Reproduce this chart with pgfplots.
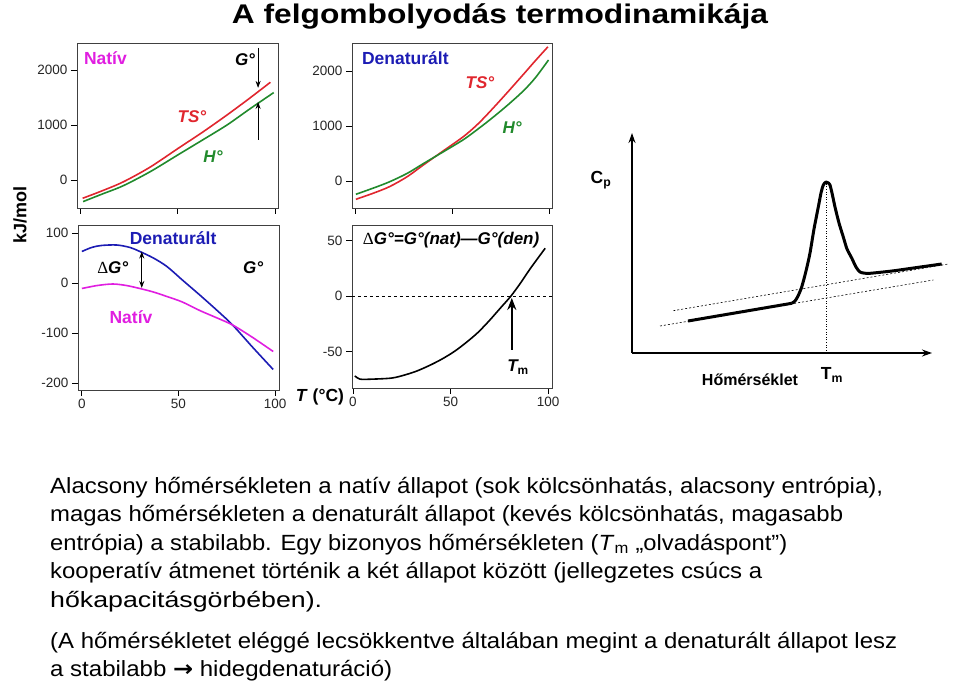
\documentclass[border=0pt]{standalone}
\usepackage{fontspec}
\setmainfont{Liberation Sans}
\newfontfamily\symfont{Liberation Serif}
\newfontfamily\arrowfont{DejaVu Sans}
\usepackage{graphicx}
\usepackage{pgfplots}
\pgfplotsset{compat=1.18}
\usetikzlibrary{arrows.meta}
\definecolor{tsred}{HTML}{E0262E}
\definecolor{hgreen}{HTML}{218A2C}
\definecolor{denblue}{HTML}{1C1CB4}
\definecolor{natmag}{HTML}{E01EE0}

\newcommand{\lab}{\fontsize{17.5bp}{20bp}\selectfont\bfseries}
\newcommand{\labi}{\fontsize{17bp}{20bp}\selectfont\bfseries\itshape}
\newcommand{\body}{\fontsize{22bp}{26bp}\selectfont}
% one line of the slide text, stretched to the width it has in the reference
\newcommand{\bline}[3]{\node[anchor=base west,inner sep=0pt,font=\body] at (50bp,-#1bp) {\resizebox{#2bp}{\height}{#3}};}

\pgfplotsset{
  panel/.style={
    scale only axis, clip=false,
    tick align=outside, major tick length=6bp,
    xtick pos=left, ytick pos=left,
    axis line style={line width=0.7bp, black!75},
    tick style={line width=0.8bp, black},
    tick label style={font=\fontsize{13.5bp}{15bp}\selectfont, text=black!85},
    /pgf/number format/assume math mode=true,
    /pgf/number format/set thousands separator={},
    scaled ticks=false,
    xtick={0,50,100},
  },
}

\begin{document}
\begin{tikzpicture}
\useasboundingbox (0,0) rectangle (960bp,-684bp);

% title
\node[anchor=base,inner sep=0pt,font=\fontsize{27bp}{30bp}\selectfont\bfseries] at (500bp,-23bp)
  {\resizebox{536bp}{\height}{A felgombolyodás termodinamikája}};

% ---- top left: native state
\begin{axis}[panel, at={(77bp,-43bp)}, anchor=north west, width=201bp, height=165bp,
  xmin=-1.5, xmax=101.5, ymin=-510, ymax=2490, ytick={0,1000,2000}, xticklabels={}]
\addplot[tsred, line width=1.6bp, smooth] coordinates {
  (1.4,-333) (11,-203) (22.2,-35) (36,234) (50.4,576) (63,872) (75.4,1182) (87,1487) (97.6,1776)};
\addplot[hgreen, line width=1.6bp, smooth] coordinates {
  (1.6,-394) (11.5,-255) (22.2,-105) (36,150) (50.4,460) (63,730) (75.4,1000) (87,1290) (99.3,1588)};
\node[natmag, font=\lab, anchor=west, inner sep=0pt] at (axis cs:2,2218) {Natív};
\node[font=\labi] at (axis cs:84.6,2180) {G°};
\node[tsred, font=\labi] at (axis cs:57.4,1145) {TS°};
\node[hgreen, font=\labi] at (axis cs:68.2,418) {H°};
\draw[-{Stealth[length=7bp,width=5bp]}, line width=1.1bp] (axis cs:91.3,2400) -- (axis cs:91.3,1673);
\draw[-{Stealth[length=7bp,width=5bp]}, line width=1.1bp] (axis cs:91.3,727) -- (axis cs:91.3,1418);
\end{axis}

% ---- top middle: denatured state
\begin{axis}[panel, at={(352bp,-43bp)}, anchor=north west, width=200bp, height=165bp,
  xmin=-1.5, xmax=101.5, ymin=-491, ymax=2509, ytick={0,1000,2000}, xticklabels={}]
\addplot[tsred, line width=1.6bp, smooth] coordinates {
  (0.5,-333) (10,-215) (18,-100) (27,80) (35.2,290) (45,535) (55.8,805) (63,1025) (69.6,1265)
  (78,1590) (86.8,1940) (93,2190) (99.4,2440)};
\addplot[hgreen, line width=1.6bp, smooth] coordinates {
  (0.5,-242) (10,-122) (18,-12) (27,140) (35.2,315) (45,520) (55.8,750) (63,935) (69.6,1115)
  (78,1360) (86.8,1640) (93,1880) (99.7,2200)};
\node[denblue, font=\lab, anchor=west, inner sep=0pt] at (axis cs:3.6,2236) {Denaturált};
\node[tsred, font=\labi] at (axis cs:64.4,1782) {TS°};
\node[hgreen, font=\labi] at (axis cs:81,964) {H°};
\end{axis}

% ---- bottom left: free energies
\begin{axis}[panel, at={(78bp,-225bp)}, anchor=north west, width=201bp, height=165bp,
  xmin=-2, xmax=102, ymin=-214, ymax=116, ytick={-200,-100,0,100}]
\addplot[denblue, line width=1.6bp, smooth] coordinates {
  (0,63) (5,71) (10,75) (18,76) (25,71) (30,63) (37,50) (44,33) (52,6) (61,-24) (70,-55) (78,-84) (88,-127) (99,-173)};
\addplot[natmag, line width=1.6bp, smooth] coordinates {
  (0,-11) (8,-5) (16,-2) (23,-5) (30,-11) (37,-18) (44,-27) (52,-38) (61,-55) (70,-70) (78,-84) (88,-108) (99,-137)};
\node[denblue, font=\lab] at (axis cs:47.2,90) {Denaturált};
\node[natmag, font=\lab] at (axis cs:25.4,-68) {Natív};
\node[font=\labi] at (axis cs:88.6,30) {G°};
\node[font=\labi] at (axis cs:16,30) {{\symfont\upshape\mdseries Δ}G°};
\draw[{Stealth[length=7bp,width=5bp]}-{Stealth[length=7bp,width=5bp]}, line width=1.1bp]
  (axis cs:31,63) -- (axis cs:31,-10);
\end{axis}

% ---- bottom middle: Delta G
\begin{axis}[panel, at={(352bp,-225bp)}, anchor=north west, width=200bp, height=163bp,
  xmin=-0.5, xmax=102, ymin=-83, ymax=64, ytick={-50,0,50}]
\addplot[black, line width=0.7bp, dashed] coordinates {(-0.5,0) (102,0)};
\addplot[black, line width=1.6bp, smooth] coordinates {
  (1,-72) (3.5,-75) (10,-75) (20,-74) (27,-71) (33,-67.5) (40,-62) (46,-56.5) (52,-50) (58,-42)
  (64,-33) (70,-22) (76,-10) (81,0) (86,12) (91,25) (98.5,43)};
\node[font=\labi] at (axis cs:50.3,50.5) {{\symfont\upshape\mdseries Δ}G°=G°(nat)—G°(den)};
\draw[-{Stealth[length=12bp,width=9bp]}, line width=2.6bp] (axis cs:81.4,-48.6) -- (axis cs:81.4,-1.8);
\node[font=\labi] at (axis cs:84.6,-64) {T\textsubscript{\upshape m}};
\end{axis}

\node[font=\lab] at (320bp,-397bp) {\textit{T} (°C)};
\node[font=\fontsize{18bp}{20bp}\selectfont\bfseries, rotate=90] at (20bp,-215bp) {kJ/mol};

% ---- right: heat capacity
\begin{axis}[scale only axis, clip=false, at={(632bp,-353bp)}, anchor=south west,
  width=300bp, height=220bp, xmin=0, xmax=300, ymin=0, ymax=220,
  axis lines=left, xtick=\empty, ytick=\empty,
  axis line style={line width=1.3bp, -{Stealth[length=10bp,width=7bp]}}]
\addplot[black, line width=0.6bp, dash pattern=on 2bp off 2bp] coordinates {(28,27) (301.3,73)};
\addplot[black, line width=0.6bp, dash pattern=on 2bp off 2bp] coordinates {(41.3,42.3) (316.3,89)};
\addplot[black, line width=0.6bp, dotted] coordinates {(194,0) (194,171)};
\addplot[black, line width=3bp] coordinates {(56,32) (159.7,49.7)};
\addplot[black, line width=3bp, smooth, tension=0.45, line join=round] coordinates {
  (159.7,49.7) (163,52) (166,57) (169.7,66) (174,82) (178,100) (182,124) (186.3,146) (189,160)
  (191.3,168) (194,171) (196.5,170) (198,168) (200,160) (203,146) (207,130) (211.3,116)
  (215,104) (219.7,95) (224,86) (228,81) (233,79.8) (238,79.7) (260,82) (285,85.5) (309.7,89)};
\end{axis}
\node[font=\lab] at (601bp,-180bp) {C\textsubscript{p}};
\node[font=\fontsize{16bp}{18bp}\selectfont\bfseries] at (750bp,-380bp) {Hőmérséklet};
\node[font=\lab] at (832bp,-375bp) {T\textsubscript{m}};

% ---- slide text
\bline{493}{833}{Alacsony hőmérsékleten a natív állapot (sok kölcsönhatás, alacsony entrópia),}
\bline{521.5}{793}{magas hőmérsékleten a denaturált állapot (kevés kölcsönhatás, magasabb}
\bline{550}{737}{entrópia) a stabilabb. Egy bizonyos hőmérsékleten (\textit{T}\textsubscript{m} „olvadáspont”)}
\bline{578.5}{712}{kooperatív átmenet történik a két állapot között (jellegzetes csúcs a}
\bline{607}{272}{hőkapacitásgörbében).}
\bline{648}{847}{(A hőmérsékletet eléggé lecsökkentve általában megint a denaturált állapot lesz}
\bline{676}{342}{a stabilabb {\arrowfont\bfseries →} hidegdenaturáció)}
\end{tikzpicture}
\end{document}
